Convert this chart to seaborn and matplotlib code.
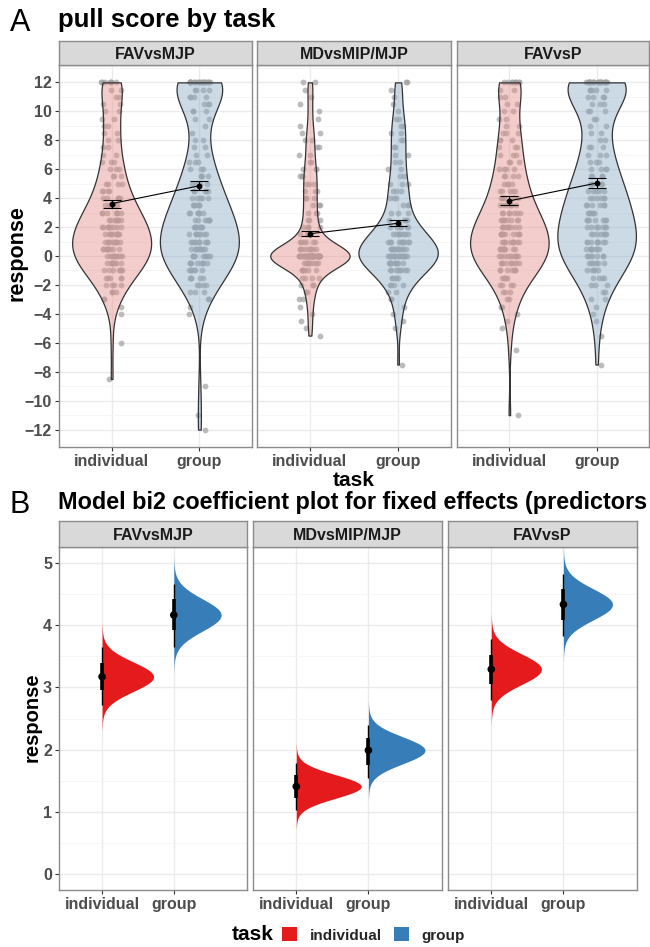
import numpy as np
import pandas as pd
import matplotlib
matplotlib.use("Agg")
import matplotlib.pyplot as plt
from matplotlib.patches import Patch
from matplotlib.ticker import MultipleLocator
import seaborn as sns

sns.set_theme(style="white")
plt.rcParams["font.family"] = ["Liberation Sans", "DejaVu Sans"]

W, H = 650, 947

conditions = ["FAVvsMJP", "MDvsMIP/MJP", "FAVvsP"]
tasks = ["individual", "group"]

# ---------- Panel A: raw pull scores (value levels and counts per level) ----------
levels = [12, 11.5, 11, 10.5, 10, 9.5, 9, 8.5, 8, 7.5, 7, 6.5, 6, 5.5, 5, 4.5, 4,
          3.5, 3, 2.5, 2, 1.5, 1, 0.5, 0, -0.5, -1, -1.5, -2, -2.5, -3, -3.5, -4,
          -4.5, -5, -5.5, -6, -6.5, -7, -7.5, -8, -8.5, -9, -9.5, -10, -10.5, -11,
          -11.5, -12]

cnt_favmjp_ind = [7, 2, 2, 2, 2, 2, 2, 2, 2, 2, 2, 3, 3, 3, 4, 4, 5, 6, 7, 8,
                  9, 10, 10, 10, 10, 9, 7, 5, 4, 3, 2, 1, 1, 0, 0, 0, 1, 0, 0, 0,
                  0, 1, 0, 0, 0, 0, 0, 0, 0]
cnt_favmjp_grp = [20, 4, 4, 3, 3, 2, 1, 1, 2, 2, 2, 3, 3, 4, 4, 5, 5, 6, 7, 7,
                  8, 8, 9, 9, 9, 8, 6, 5, 4, 3, 2, 1, 1, 0, 0, 0, 0, 0, 0, 0,
                  0, 0, 1, 0, 0, 0, 1, 0, 1]
cnt_md_ind = [2, 1, 1, 1, 1, 1, 1, 2, 2, 2, 2, 2, 3, 3, 3, 3, 3, 3, 3, 3,
              4, 4, 6, 9, 45, 9, 6, 4, 3, 2, 2, 1, 1, 1, 1, 1, 0, 0, 0, 0,
              0, 0, 0, 0, 0, 0, 0, 0, 0]
cnt_md_grp = [2, 1, 1, 1, 1, 2, 2, 2, 2, 2, 2, 2, 2, 2, 3, 3, 3, 3, 3, 4,
              6, 8, 10, 12, 16, 10, 8, 5, 4, 2, 2, 1, 1, 1, 1, 0, 0, 0, 0, 1,
              0, 0, 0, 0, 0, 0, 0, 0, 0]
cnt_favp_ind = [9, 2, 2, 2, 2, 2, 2, 3, 3, 3, 3, 3, 4, 4, 4, 5, 5, 6, 7, 8,
                9, 10, 10, 10, 10, 9, 7, 5, 4, 3, 2, 2, 1, 1, 1, 0, 0, 1, 0, 0,
                0, 0, 0, 0, 0, 0, 1, 0, 0]
cnt_favp_grp = [22, 5, 4, 3, 3, 2, 2, 2, 2, 3, 3, 3, 4, 4, 5, 5, 6, 6, 6, 7,
                7, 7, 8, 8, 7, 6, 5, 4, 3, 2, 2, 1, 1, 1, 0, 1, 0, 0, 0, 1,
                0, 0, 0, 0, 0, 0, 0, 0, 0]

mean_ind = [3.62, 1.54, 3.81]
mean_grp = [4.85, 2.26, 5.04]
se_ind = [0.28, 0.19, 0.31]
se_grp = [0.32, 0.22, 0.34]

# ---------- Panel B: posterior summaries ----------
med_ind = [3.17, 1.41, 3.29]
med_grp = [4.16, 1.99, 4.33]
sd_ind = [0.237, 0.189, 0.245]
sd_grp = [0.258, 0.217, 0.250]
thick_ind_lo = [2.95, 1.23, 3.05]
thick_ind_hi = [3.39, 1.59, 3.52]
thin_ind_lo = [2.71, 1.04, 2.80]
thin_ind_hi = [3.64, 1.78, 3.77]
thick_grp_lo = [3.92, 1.76, 4.08]
thick_grp_hi = [4.41, 2.18, 4.58]
thin_grp_lo = [3.65, 1.55, 3.83]
thin_grp_hi = [4.66, 2.40, 4.82]

top_fill = {"individual": (244/255, 133/255, 126/255), "group": (133/255, 173/255, 211/255)}
bot_fill = {"individual": "#E41A1C", "group": "#377EB8"}

# ---------- build data frame ----------
count_map = {
    ("FAVvsMJP", "individual"): cnt_favmjp_ind,
    ("FAVvsMJP", "group"): cnt_favmjp_grp,
    ("MDvsMIP/MJP", "individual"): cnt_md_ind,
    ("MDvsMIP/MJP", "group"): cnt_md_grp,
    ("FAVvsP", "individual"): cnt_favp_ind,
    ("FAVvsP", "group"): cnt_favp_grp,
}
frames = []
for (cond, task), cnt in count_map.items():
    vals = np.repeat(np.array(levels, dtype=float), cnt)
    frames.append(pd.DataFrame({"condition": cond, "task": task, "response": vals}))
df_top = pd.concat(frames, ignore_index=True)


def nrd0(kde):
    x = np.asarray(kde.dataset).ravel()
    sd = x.std(ddof=1)
    q75, q25 = np.percentile(x, [75, 25])
    lo = min(sd, (q75 - q25) / 1.34) if q75 > q25 else sd
    return 0.9 * lo * len(x) ** (-0.2) / sd


fig = plt.figure(figsize=(W / 100, H / 100), dpi=100)


def rect(x0, y0, x1, y1):
    return [x0 / W, 1 - y1 / H, (x1 - x0) / W, (y1 - y0) / H]


def style(ax, show_y):
    ax.set_facecolor("white")
    ax.set_axisbelow(True)
    ax.xaxis.grid(True, which="major", color="#EBEBEB", lw=1.0)
    ax.yaxis.grid(True, which="major", color="#EBEBEB", lw=1.0)
    ax.yaxis.grid(True, which="minor", color="#F5F5F5", lw=0.6)
    for s in ax.spines.values():
        s.set_visible(True)
        s.set_color("#8C8C8C")
        s.set_linewidth(1.0)
    ax.tick_params(axis="both", which="major", direction="out", length=3, width=0.8,
                   color="#333333", labelsize=11.5, labelcolor="#4D4D4D", pad=2)
    ax.tick_params(axis="x", bottom=True)
    ax.tick_params(axis="y", left=show_y, labelleft=show_y)
    ax.tick_params(which="minor", length=0)
    for lab in ax.get_xticklabels() + ax.get_yticklabels():
        lab.set_fontweight("bold")
    ax.set_xlabel("")
    ax.set_ylabel("")


def strip(x0, x1, y0, y1, text):
    sa = fig.add_axes(rect(x0, y0, x1, y1))
    sa.set_facecolor("#D9D9D9")
    sa.set_xticks([])
    sa.set_yticks([])
    for s in sa.spines.values():
        s.set_visible(True)
        s.set_color("#8C8C8C")
        s.set_linewidth(1.0)
    sa.text(0.5, 0.45, text, ha="center", va="center", fontsize=11.5,
            fontweight="bold", color="#1A1A1A", transform=sa.transAxes)


# ---------------- Panel A ----------------
top_x = [(59, 252), (257, 451), (457, 649)]
for i, cond in enumerate(conditions):
    ax = fig.add_axes(rect(top_x[i][0], 65, top_x[i][1], 447))
    sub = df_top[df_top["condition"] == cond]
    np.random.seed(11 + i)
    sns.stripplot(data=sub, x="task", y="response", order=tasks, color="#A0A0A0",
                  size=4.2, jitter=0.12, alpha=0.7, linewidth=0, ax=ax, zorder=1)
    n0 = len(ax.collections)
    sns.violinplot(data=sub, x="task", y="response", order=tasks, hue="task",
                   hue_order=tasks, palette=top_fill, cut=0, width=0.9, inner=None,
                   linecolor="#333333", linewidth=0.9, bw_method=nrd0, bw_adjust=0.85,
                   density_norm="area", gridsize=256, legend=False, ax=ax)
    for c in ax.collections[n0:]:
        fc = np.array(c.get_facecolor())
        if fc.size:
            fc[:, 3] = 0.45
            c.set_facecolor(fc)
        c.set_zorder(2)
    ax.errorbar([0, 1], [mean_ind[i], mean_grp[i]], yerr=[se_ind[i], se_grp[i]],
                fmt="none", ecolor="black", elinewidth=0.8, capsize=6.5,
                capthick=0.8, zorder=4)
    ax.plot([0, 1], [mean_ind[i], mean_grp[i]], color="black", lw=0.8,
            marker="o", markersize=3.2, zorder=5)
    ax.set_xlim(-0.6, 1.6)
    ax.set_ylim(-13.2, 13.2)
    ax.set_yticks(range(-12, 13, 2))
    ax.yaxis.set_minor_locator(MultipleLocator(1))
    ax.set_xticks([0, 1])
    ax.set_xticklabels(tasks)
    style(ax, i == 0)
    strip(top_x[i][0], top_x[i][1], 41, 65, cond)

# ---------------- Panel B ----------------
bot_x = [(59, 247), (253, 442), (448, 637)]
k = 0.9 * np.sqrt(2 * np.pi) * min(sd_ind + sd_grp)
for i, cond in enumerate(conditions):
    ax = fig.add_axes(rect(bot_x[i][0], 547, bot_x[i][1], 890))
    specs = [
        (0, med_ind[i], sd_ind[i], bot_fill["individual"], thick_ind_lo[i], thick_ind_hi[i], thin_ind_lo[i], thin_ind_hi[i]),
        (1, med_grp[i], sd_grp[i], bot_fill["group"], thick_grp_lo[i], thick_grp_hi[i], thin_grp_lo[i], thin_grp_hi[i]),
    ]
    for pos, med, sd, col, tl, th, nl, nh in specs:
        y = np.linspace(med - 3.6 * sd, med + 3.6 * sd, 400)
        dens = np.exp(-0.5 * ((y - med) / sd) ** 2) / (sd * np.sqrt(2 * np.pi))
        ax.fill_betweenx(y, pos, pos + dens * k, color=col, lw=0, zorder=2)
        ax.plot([pos, pos], [nl, nh], color="black", lw=1.0, solid_capstyle="butt", zorder=3)
        ax.plot([pos, pos], [tl, th], color="black", lw=2.6, solid_capstyle="butt", zorder=4)
    sns.scatterplot(x=[0, 1], y=[med_ind[i], med_grp[i]], color="black", s=30,
                    edgecolor="none", ax=ax, zorder=5, legend=False)
    ax.set_xlim(-0.6, 2.02)
    ax.set_ylim(-0.25, 5.25)
    ax.set_yticks(range(0, 6))
    ax.yaxis.set_minor_locator(MultipleLocator(0.5))
    ax.set_xticks([0, 1])
    ax.set_xticklabels(tasks)
    style(ax, i == 0)
    strip(bot_x[i][0], bot_x[i][1], 521, 547, cond)

# ---------------- titles & labels ----------------
fig.text(10 / W, 1 - 23 / H, "A", fontsize=22, ha="left", va="center", color="black")
fig.text(58 / W, 1 - 20 / H, "pull score by task", fontsize=18.5, fontweight="bold",
         ha="left", va="center", color="black")
fig.text(17 / W, 1 - 253 / H, "response", fontsize=15.5, fontweight="bold",
         rotation=90, ha="center", va="center", color="black")
fig.text(354 / W, 1 - 480 / H, "task", fontsize=15, fontweight="bold",
         ha="center", va="center", color="black")

fig.text(10 / W, 1 - 505 / H, "B", fontsize=22, ha="left", va="center", color="black")
fig.text(58 / W, 1 - 503 / H, "Model bi2 coefficient plot for fixed effects (predictors",
         fontsize=16.8, fontweight="bold", ha="left", va="center", color="black")
fig.text(32 / W, 1 - 717 / H, "response", fontsize=14.5, fontweight="bold",
         rotation=90, ha="center", va="center", color="black")

fig.text(232 / W, 1 - 934 / H, "task", fontsize=15, fontweight="bold",
         ha="left", va="center", color="black")
handles = [Patch(facecolor=bot_fill[t], edgecolor="none") for t in tasks]
leg = fig.legend(handles, tasks, loc="center left", bbox_to_anchor=(282 / W, 1 - 935 / H),
                 ncol=2, frameon=False, handlelength=1.0, handleheight=1.0,
                 handletextpad=0.8, columnspacing=0.8, borderaxespad=0, borderpad=0,
                 prop={"size": 11, "weight": "bold"})

fig.savefig("out.png", dpi=100)
